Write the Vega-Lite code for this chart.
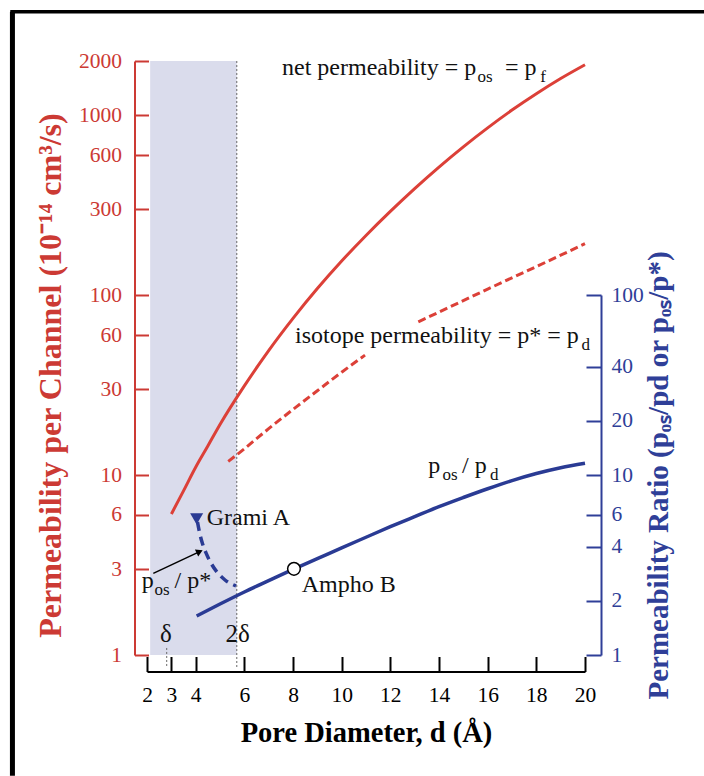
{
  "$schema": "https://vega.github.io/schema/vega-lite/v6.json",
  "width": 438,
  "height": 594,
  "autosize": {"type": "none"},
  "padding": {"left": 147, "top": 61, "right": 119, "bottom": 121},
  "background": "white",
  "config": {
    "view": {"stroke": null},
    "axis": {"grid": false, "labelFont": "Liberation Serif", "titleFont": "Liberation Serif", "labelFlush": false, "labelOverlap": false},
    "text": {"font": "Liberation Serif"}
  },
  "datasets": {
    "shade": [{"x": 2.13, "x2": 5.69, "v": 1, "v2": 2000}],
    "vlines": [{"x": 5.69, "v": 2000, "v2": 0.847}, {"x": 2.81, "v": 1.094, "v2": 0.847}],
    "frameV": [{"x": -3.53, "v": 3758, "v2": 0.213}],
    "frameH": [{"x": -3.62, "x2": 24.9, "v": 3758}],
    "pf": [
      {"x": 3, "v": 6.07}, {"x": 3.5, "v": 8.17}, {"x": 4, "v": 11.05}, {"x": 4.5, "v": 14.5}, {"x": 5, "v": 19.1},
      {"x": 6, "v": 31.3}, {"x": 7, "v": 49.2}, {"x": 8, "v": 74.3}, {"x": 9, "v": 108.8}, {"x": 10, "v": 154.7},
      {"x": 11, "v": 214.6}, {"x": 12, "v": 292}, {"x": 13, "v": 391}, {"x": 14, "v": 515}, {"x": 15, "v": 667},
      {"x": 16, "v": 850}, {"x": 17, "v": 1067}, {"x": 18, "v": 1315}, {"x": 19, "v": 1597}, {"x": 20, "v": 1905}
    ],
    "pd": [
      {"x": 5.34, "v": 11.9, "seg": "a"}, {"x": 6, "v": 14.0, "seg": "a"}, {"x": 7, "v": 18.1, "seg": "a"},
      {"x": 8.15, "v": 24.0, "seg": "a"}, {"x": 9, "v": 29.4, "seg": "a"}, {"x": 10, "v": 37.3, "seg": "a"},
      {"x": 10.96, "v": 46.4, "seg": "a"},
      {"x": 13.15, "v": 71.1, "seg": "b"}, {"x": 14, "v": 80.5, "seg": "b"}, {"x": 16, "v": 108, "seg": "b"},
      {"x": 18, "v": 144, "seg": "b"}, {"x": 20, "v": 193, "seg": "b"}
    ],
    "ratio": [
      {"x": 4.04, "r": 1.647}, {"x": 5, "r": 1.92}, {"x": 6, "r": 2.24}, {"x": 7, "r": 2.59}, {"x": 8, "r": 2.99},
      {"x": 9, "r": 3.43}, {"x": 10, "r": 3.94}, {"x": 11, "r": 4.51}, {"x": 12, "r": 5.16}, {"x": 13, "r": 5.87},
      {"x": 14, "r": 6.67}, {"x": 15, "r": 7.5}, {"x": 16, "r": 8.39}, {"x": 17, "r": 9.31}, {"x": 18, "r": 10.19},
      {"x": 19, "r": 10.98}, {"x": 20, "r": 11.61}
    ],
    "ratiostar": [
      {"x": 4.076, "r": 5.48}, {"x": 4.137, "r": 4.95}, {"x": 4.26, "r": 4.24}, {"x": 4.425, "r": 3.69},
      {"x": 4.63, "r": 3.24}, {"x": 4.877, "r": 2.89}, {"x": 5.206, "r": 2.61}, {"x": 5.658, "r": 2.42}
    ],
    "grami": [{"x": 4.04, "r": 5.7}],
    "ampho": [{"x": 8.04, "r": 3.01}],
    "arrow": [{"x": 2.259, "v": 2.843, "x2": 4.12, "v2": 3.73}],
    "arrowhead": [{"x": 4.12, "v": 3.73}],
    "labels": [
      {"x": 7.549, "v": 1668, "t": "net permeability = p"},
      {"x": 16.71, "v": 1668, "t": "= p"},
      {"x": 8.083, "v": 53.9, "t": "isotope permeability = p* = p"},
      {"x": 13.56, "v": 10.22, "t": "p"},
      {"x": 14.95, "v": 10.22, "t": "/ p"},
      {"x": 4.454, "v": 5.275, "t": "Grami A"},
      {"x": 8.358, "v": 2.247, "t": "Ampho B"},
      {"x": 1.782, "v": 2.348, "t": "p"},
      {"x": 3.13, "v": 2.348, "t": "/ p*"}
    ],
    "subs": [
      {"x": 15.58, "v": 1668, "t": "os"},
      {"x": 18.16, "v": 1668, "t": "f"},
      {"x": 19.86, "v": 53.9, "t": "d"},
      {"x": 14.14, "v": 10.22, "t": "os"},
      {"x": 16.1, "v": 10.22, "t": "d"},
      {"x": 2.31, "v": 2.348, "t": "os"}
    ],
    "deltas": [{"x": 2.78, "v": 1.186, "t": "δ"}, {"x": 5.72, "v": 1.186, "t": "2δ"}]
  },
  "layer": [
    {
      "layer": [
        {
          "data": {"name": "shade"},
          "mark": {"type": "rect", "color": "#dadcec"},
          "encoding": {
            "x": {"field": "x", "type": "quantitative", "scale": {"domain": [2, 20], "nice": false, "zero": false},
              "axis": {"title": "Pore Diameter, d  (Å)", "values": [2, 3, 4, 6, 8, 10, 12, 14, 16, 18, 20], "offset": 16.5,
                "tickSize": -15, "tickWidth": 2, "tickColor": "black", "domainColor": "black", "domainWidth": 2,
                "labelColor": "black", "labelFontSize": 21.5, "labelPadding": 45, "labelBaseline": "alphabetic",
                "titleFontSize": 28.5, "titleFontWeight": "bold", "titleColor": "black", "titleBaseline": "alphabetic", "titleY": 70}},
            "x2": {"field": "x2"},
            "y": {"field": "v", "type": "quantitative", "scale": {"type": "log", "domain": [1, 2000], "nice": false},
              "axis": {"title": "Permeability per Channel (10⁻¹⁴ cm³/s)", "values": [1, 3, 6, 10, 30, 60, 100, 300, 600, 1000, 2000],
                "format": "d", "offset": 12.5, "tickSize": -14, "tickWidth": 2, "tickColor": "#cc3a34", "domainColor": "#cc3a34",
                "domainWidth": 2, "labelColor": "#cc3a34", "labelFontSize": 21.5, "labelPadding": 27,
                "titleColor": "#cc3a34", "titleFontSize": 32, "titleFontWeight": "bold", "titleBaseline": "alphabetic",
                "titleX": -74, "titleY": 314}},
            "y2": {"field": "v2"}
          }
        },
        {
          "data": {"name": "vlines"},
          "mark": {"type": "rule", "color": "#666666", "strokeWidth": 1, "strokeDash": [2, 2]},
          "encoding": {
            "x": {"field": "x", "type": "quantitative"},
            "y": {"field": "v", "type": "quantitative"},
            "y2": {"field": "v2"}
          }
        },
        {
          "data": {"name": "frameV"},
          "mark": {"type": "rule", "color": "black", "strokeWidth": 5},
          "encoding": {
            "x": {"field": "x", "type": "quantitative"},
            "y": {"field": "v", "type": "quantitative"},
            "y2": {"field": "v2"}
          }
        },
        {
          "data": {"name": "frameH"},
          "mark": {"type": "rule", "color": "black", "strokeWidth": 3.5},
          "encoding": {
            "x": {"field": "x", "type": "quantitative"},
            "x2": {"field": "x2"},
            "y": {"field": "v", "type": "quantitative"}
          }
        },
        {
          "data": {"name": "pf"},
          "mark": {"type": "line", "color": "#dc4038", "strokeWidth": 3, "interpolate": "monotone"},
          "encoding": {
            "x": {"field": "x", "type": "quantitative"},
            "y": {"field": "v", "type": "quantitative"}
          }
        },
        {
          "data": {"name": "pd"},
          "mark": {"type": "line", "color": "#dc4038", "strokeWidth": 3, "strokeDash": [8, 4], "interpolate": "monotone"},
          "encoding": {
            "x": {"field": "x", "type": "quantitative"},
            "y": {"field": "v", "type": "quantitative"},
            "detail": {"field": "seg"}
          }
        },
        {
          "data": {"name": "arrow"},
          "mark": {"type": "rule", "color": "black", "strokeWidth": 1.5},
          "encoding": {
            "x": {"field": "x", "type": "quantitative"},
            "y": {"field": "v", "type": "quantitative"},
            "x2": {"field": "x2"},
            "y2": {"field": "v2"}
          }
        },
        {
          "data": {"name": "arrowhead"},
          "mark": {"type": "point", "shape": "triangle", "filled": true, "color": "black", "size": 60, "angle": 65, "opacity": 1},
          "encoding": {
            "x": {"field": "x", "type": "quantitative"},
            "y": {"field": "v", "type": "quantitative"}
          }
        },
        {
          "data": {"name": "labels"},
          "mark": {"type": "text", "fontSize": 24, "align": "left", "baseline": "alphabetic", "color": "#111111", "font": "Liberation Serif"},
          "encoding": {
            "x": {"field": "x", "type": "quantitative"},
            "y": {"field": "v", "type": "quantitative"},
            "text": {"field": "t"}
          }
        },
        {
          "data": {"name": "subs"},
          "mark": {"type": "text", "fontSize": 17, "align": "left", "baseline": "alphabetic", "dy": 7, "color": "#111111", "font": "Liberation Serif"},
          "encoding": {
            "x": {"field": "x", "type": "quantitative"},
            "y": {"field": "v", "type": "quantitative"},
            "text": {"field": "t"}
          }
        },
        {
          "data": {"name": "deltas"},
          "mark": {"type": "text", "fontSize": 25, "align": "center", "baseline": "alphabetic", "color": "#111111", "font": "Liberation Serif"},
          "encoding": {
            "x": {"field": "x", "type": "quantitative"},
            "y": {"field": "v", "type": "quantitative"},
            "text": {"field": "t"}
          }
        }
      ]
    },
    {
      "layer": [
        {
          "data": {"name": "ratio"},
          "mark": {"type": "line", "color": "#2a3b94", "strokeWidth": 3.5, "interpolate": "monotone"},
          "encoding": {
            "x": {"field": "x", "type": "quantitative"},
            "y": {"field": "r", "type": "quantitative", "scale": {"type": "log", "domain": [1, 100], "range": [594, 234], "nice": false},
              "axis": {"orient": "right", "title": "Permeability Ratio (pₒₛ/pd  or  pₒₛ/p*)", "values": [1, 2, 4, 6, 10, 20, 40, 100],
                "format": "d", "offset": 16, "tickSize": -15, "tickWidth": 2, "tickColor": "#2f3f98", "domainColor": "#2f3f98",
                "domainWidth": 2, "labelColor": "#2f3f98", "labelFontSize": 21.5, "labelPadding": 25,
                "titleColor": "#2f3f98", "titleFontSize": 29, "titleFontWeight": "bold", "titleAngle": -90,
                "titleBaseline": "alphabetic", "titleX": 66}}
          }
        },
        {
          "data": {"name": "ratiostar"},
          "mark": {"type": "line", "color": "#2a3b94", "strokeWidth": 3.5, "strokeDash": [9, 6], "interpolate": "monotone"},
          "encoding": {
            "x": {"field": "x", "type": "quantitative"},
            "y": {"field": "r", "type": "quantitative"}
          }
        },
        {
          "data": {"name": "grami"},
          "mark": {"type": "point", "shape": "triangle-down", "filled": true, "color": "#2a3b94", "size": 170, "opacity": 1},
          "encoding": {
            "x": {"field": "x", "type": "quantitative"},
            "y": {"field": "r", "type": "quantitative"}
          }
        },
        {
          "data": {"name": "ampho"},
          "mark": {"type": "point", "shape": "circle", "filled": true, "fill": "white", "stroke": "black", "strokeWidth": 1.5, "size": 160, "opacity": 1},
          "encoding": {
            "x": {"field": "x", "type": "quantitative"},
            "y": {"field": "r", "type": "quantitative"}
          }
        }
      ]
    }
  ],
  "resolve": {"scale": {"y": "independent"}}
}
